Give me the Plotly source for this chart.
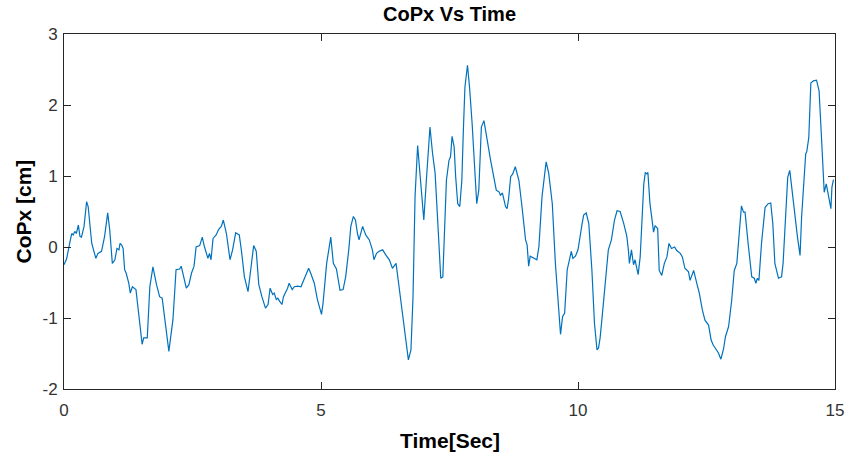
import plotly.graph_objects as go

time_sec = [
    0.00, 0.05, 0.11, 0.15, 0.18, 0.21, 0.24, 0.28, 0.31, 0.34, 0.39, 0.44, 0.47, 0.54, 0.62, 0.66,
    0.73, 0.79, 0.85, 0.89, 0.94, 0.99, 1.03, 1.07, 1.09, 1.12, 1.15, 1.18, 1.21, 1.26, 1.29, 1.33,
    1.40, 1.44, 1.47, 1.52, 1.55, 1.62, 1.67, 1.73, 1.80, 1.86, 1.91, 1.96, 2.00, 2.04, 2.07, 2.12,
    2.18, 2.25, 2.28, 2.33, 2.38, 2.43, 2.48, 2.53, 2.57, 2.64, 2.69, 2.73, 2.80, 2.83, 2.86, 2.90,
    2.96, 3.01, 3.06, 3.10, 3.16, 3.23, 3.28, 3.34, 3.41, 3.45, 3.51, 3.58, 3.64, 3.69, 3.74, 3.79,
    3.85, 3.92, 3.97, 4.01, 4.06, 4.09, 4.13, 4.16, 4.20, 4.24, 4.27, 4.31, 4.35, 4.38, 4.44, 4.48,
    4.55, 4.61, 4.68, 4.76, 4.80, 4.87, 4.93, 5.01, 5.04, 5.11, 5.19, 5.24, 5.30, 5.37, 5.43, 5.48,
    5.54, 5.58, 5.63, 5.67, 5.71, 5.74, 5.81, 5.87, 5.94, 6.00, 6.03, 6.08, 6.13, 6.20, 6.26, 6.33,
    6.39, 6.46, 6.51, 6.55, 6.62, 6.70, 6.75, 6.79, 6.83, 6.88, 6.92, 6.96, 7.00, 7.05, 7.09, 7.12,
    7.17, 7.22, 7.28, 7.33, 7.37, 7.41, 7.44, 7.49, 7.52, 7.55, 7.59, 7.62, 7.66, 7.70, 7.74, 7.77,
    7.80, 7.85, 7.89, 7.94, 7.99, 8.03, 8.07, 8.12, 8.17, 8.23, 8.30, 8.36, 8.41, 8.46, 8.49, 8.53,
    8.56, 8.59, 8.62, 8.65, 8.69, 8.73, 8.78, 8.85, 8.91, 8.98, 9.01, 9.04, 9.07, 9.14, 9.20, 9.24,
    9.30, 9.38, 9.43, 9.50, 9.56, 9.63, 9.66, 9.70, 9.74, 9.79, 9.85, 9.87, 9.90, 9.95, 10.00, 10.05,
    10.08, 10.11, 10.16, 10.21, 10.27, 10.32, 10.37, 10.40, 10.43, 10.47, 10.53, 10.59, 10.65, 10.71,
    10.76, 10.82, 10.89, 10.95, 10.98, 11.00, 11.04, 11.08, 11.11, 11.17, 11.21, 11.24, 11.28, 11.31,
    11.34, 11.36, 11.40, 11.45, 11.47, 11.50, 11.55, 11.58, 11.63, 11.68, 11.73, 11.77, 11.82, 11.88,
    11.92, 11.99, 12.03, 12.08, 12.15, 12.18, 12.25, 12.31, 12.36, 12.42, 12.47, 12.54, 12.59, 12.63,
    12.68, 12.73, 12.78, 12.83, 12.87, 12.93, 12.99, 13.04, 13.09, 13.13, 13.18, 13.22, 13.25, 13.31,
    13.38, 13.43, 13.46, 13.49, 13.52, 13.57, 13.64, 13.70, 13.75, 13.79, 13.83, 13.90, 13.96, 13.99,
    14.04, 14.08, 14.12, 14.17, 14.22, 14.27, 14.32, 14.35, 14.40, 14.43, 14.45, 14.49, 14.53, 14.58,
    14.64, 14.69, 14.74, 14.79, 14.83, 14.87, 14.92, 14.94, 14.97,
]

copx_cm = [
    -0.25, -0.17, 0.05, 0.19, 0.17, 0.22, 0.19, 0.31, 0.15, 0.14, 0.29, 0.64, 0.57, 0.05, -0.16, -0.09,
    -0.06, 0.15, 0.48, 0.24, -0.23, -0.18, -0.02, -0.04, 0.05, 0.03, -0.02, -0.32, -0.37, -0.51, -0.65, -0.56,
    -0.60, -0.84, -1.09, -1.37, -1.28, -1.28, -0.56, -0.28, -0.53, -0.70, -0.72, -0.98, -1.26, -1.47, -1.30, -1.02,
    -0.32, -0.31, -0.27, -0.44, -0.58, -0.53, -0.37, -0.27, 0.00, 0.02, 0.14, 0.01, -0.16, -0.09, -0.18, 0.12,
    0.17, 0.25, 0.29, 0.38, 0.19, -0.18, -0.04, 0.20, 0.17, -0.04, -0.42, -0.63, -0.23, 0.02, -0.06, -0.53,
    -0.70, -0.86, -0.81, -0.58, -0.67, -0.65, -0.74, -0.72, -0.77, -0.81, -0.70, -0.65, -0.58, -0.51, -0.60, -0.56,
    -0.55, -0.56, -0.44, -0.30, -0.37, -0.51, -0.74, -0.95, -0.79, -0.23, 0.14, -0.23, -0.31, -0.61, -0.60, -0.42,
    -0.04, 0.29, 0.43, 0.38, 0.19, 0.10, 0.29, 0.17, 0.10, -0.04, -0.18, -0.09, -0.06, -0.04, -0.11, -0.18,
    -0.30, -0.23, -0.51, -0.74, -1.07, -1.59, -1.45, -0.70, 0.71, 1.43, 1.08, 0.68, 0.38, 0.94, 1.43, 1.69,
    1.32, 1.04, 0.24, -0.44, -0.42, 0.43, 0.94, 1.22, 1.27, 1.56, 1.41, 0.99, 0.61, 0.57, 0.94, 1.65,
    2.25, 2.56, 2.25, 1.74, 1.04, 0.61, 0.80, 1.69, 1.78, 1.50, 1.22, 0.99, 0.80, 0.78, 0.73, 0.76,
    0.68, 0.57, 0.54, 0.68, 0.99, 1.03, 1.13, 0.94, 0.57, 0.10, 0.03, -0.27, -0.13, -0.16, -0.18, 0.01,
    0.71, 1.20, 1.04, 0.61, -0.23, -0.93, -1.23, -0.98, -0.93, -0.32, -0.09, -0.06, -0.16, -0.13, -0.04, 0.24,
    0.33, 0.45, 0.48, 0.33, -0.32, -1.07, -1.45, -1.42, -1.28, -0.98, -0.51, -0.04, 0.10, 0.38,
    0.51, 0.50, 0.33, 0.15, -0.04, -0.23, -0.04, -0.25, -0.18, -0.39, -0.14, 0.23, 0.89, 1.05,
    1.03, 1.05, 0.61, 0.33, 0.21, 0.30, 0.26, -0.33, -0.40, -0.23, -0.14, 0.05, -0.02, 0.00,
    -0.05, -0.09, -0.14, -0.30, -0.35, -0.47, -0.33, -0.51, -0.65, -0.89, -1.03, -1.10, -1.31, -1.38,
    -1.43, -1.49, -1.58, -1.44, -1.26, -1.12, -0.75, -0.33, -0.23, 0.19, 0.58, 0.49, 0.49, 0.05,
    -0.42, -0.44, -0.51, -0.44, -0.47, 0.05, 0.56, 0.61, 0.62, 0.33, -0.23, -0.44, -0.42, -0.23,
    0.37, 0.98, 1.08, 0.75, 0.42, 0.14, -0.12, 0.42, 0.98, 1.31, 1.34, 1.54, 2.31, 2.34,
    2.35, 2.20, 1.50, 0.77, 0.89, 0.75, 0.54, 0.84, 0.95,
]

x_ticks = [0, 5, 10, 15]
x_tick_labels = ["0", "5", "10", "15"]
y_ticks = [-2, -1, 0, 1, 2, 3]
y_tick_labels = ["-2", "-1", "0", "1", "2", "3"]

title_text = "CoPx Vs Time"
x_label = "Time[Sec]"
y_label = "CoPx [cm]"

fig = go.Figure()
fig.add_trace(go.Scatter(
    x=time_sec, y=copx_cm, mode="lines",
    line=dict(color="#0072BD", width=1.2),
    showlegend=False, hoverinfo="skip",
))

axis_common = dict(
    showline=True, linecolor="#262626", linewidth=1,
    mirror="allticks", ticks="inside", ticklen=7, tickwidth=1, tickcolor="#262626",
    showgrid=False, zeroline=False, automargin=False,
    tickfont=dict(family="Liberation Sans, Arial", size=17, color="#333333"),
)

fig.update_layout(
    width=850, height=461,
    margin=dict(l=64, r=15, t=34, b=72),
    paper_bgcolor="white", plot_bgcolor="white",
    title=dict(
        text="<b>" + title_text + "</b>",
        x=0.5, xref="paper", xanchor="center",
        y=1 - 14 / 461, yref="container", yanchor="middle",
        font=dict(family="Liberation Sans, Arial", size=20, color="#000000"),
    ),
    xaxis=dict(range=[0, 15], tickvals=x_ticks, ticktext=x_tick_labels,
               ticklabelstandoff=6, **axis_common),
    yaxis=dict(range=[-2, 3], tickvals=y_ticks, ticktext=y_tick_labels,
               ticklabelstandoff=2, **axis_common),
    annotations=[
        dict(text="<b>" + x_label + "</b>", x=0.5, y=0, xref="paper", yref="paper",
             xanchor="center", yanchor="middle", yshift=-51, showarrow=False,
             font=dict(family="Liberation Sans, Arial", size=21, color="#000000")),
        dict(text="<b>" + y_label + "</b>", x=0, y=0.5, xref="paper", yref="paper",
             xanchor="center", yanchor="middle", xshift=-41, textangle=-90, showarrow=False,
             font=dict(family="Liberation Sans, Arial", size=21, color="#000000")),
    ],
)

fig.write_html("out.html")
